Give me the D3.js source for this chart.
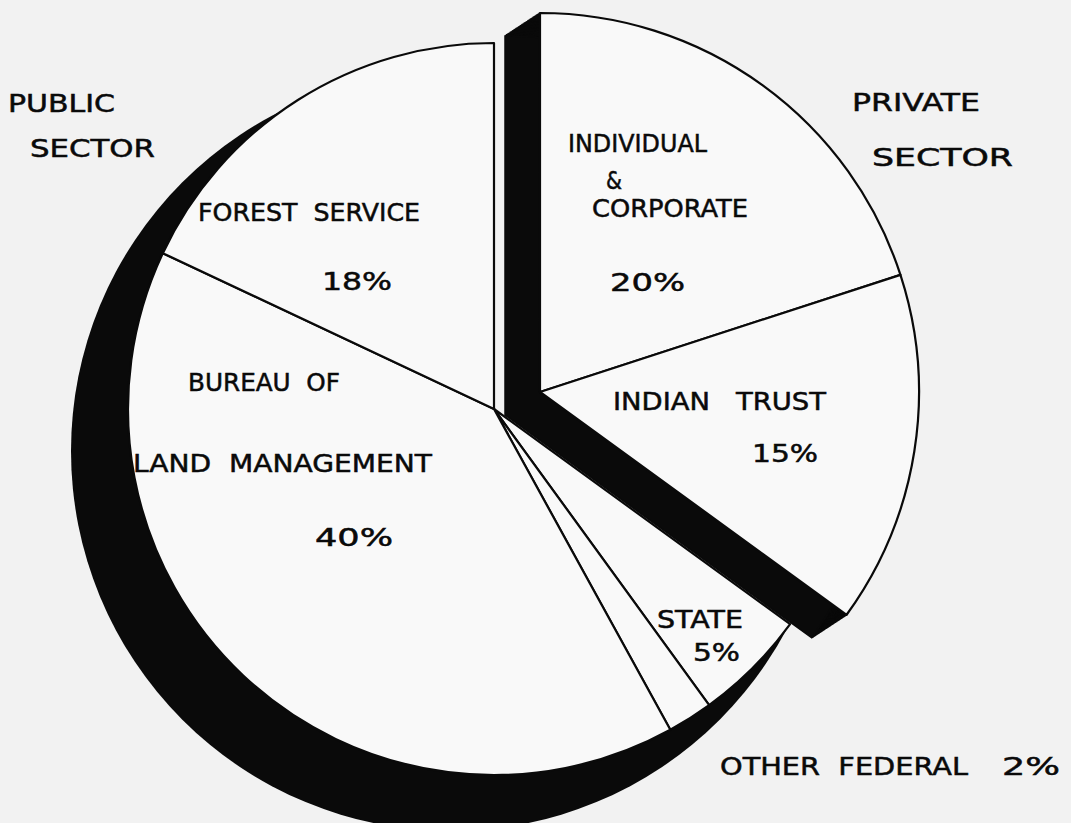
<!DOCTYPE html>
<html><head><meta charset="utf-8">
<script src="https://cdn.jsdelivr.net/npm/d3@7"></script>
<style>html,body{margin:0;padding:0;background:#f2f2f2;} svg{display:block;}</style>
</head><body><svg id="chart" width="1071" height="823"></svg>
<script>
// ---- data ----
const categories = ["Individual & Corporate", "Indian Trust", "State", "Other Federal", "Bureau of Land Management", "Forest Service"];
const shares = [20, 15, 5, 2, 40, 18];
const sectorOf = ["PRIVATE", "PRIVATE", "PUBLIC", "PUBLIC", "PUBLIC", "PUBLIC"];
const labelLines = [
  ["INDIVIDUAL", "&", "CORPORATE", "20%"],
  ["INDIAN   TRUST", "15%"],
  ["STATE", "5%"],
  ["OTHER  FEDERAL", "2%"],
  ["BUREAU  OF", "LAND  MANAGEMENT", "40%"],
  ["FOREST  SERVICE", "18%"]
];
const sectorTitles = { PUBLIC: ["PUBLIC", "SECTOR"], PRIVATE: ["PRIVATE", "SECTOR"] };

// ---- layout (positions / sizes only) ----
const pub = { cx: 494, cy: 409, r: 366, shadowDx: -43, shadowDy: 42, shadowR: 380 };
const prv = { cx: 540, cy: 392, r: 379, shadowDx: -35, shadowDy: 23 };
const labelPos = [
  [[568, 152, 139], [606, 189, 16], [592, 217, 156], [610, 291, 75]],
  [[613, 410, 213], [752, 462, 66]],
  [[657, 628, 86], [693, 661, 47]],
  [[720, 775, 248], [1002, 775, 58]],
  [[188, 391, 152], [133, 472, 299], [315, 546, 78]],
  [[198, 221, 222], [322, 290, 70]]
];
const titlePos = { PUBLIC: [[8, 112, 107], [30, 157, 125]], PRIVATE: [[852, 111, 128], [872, 166, 141]] };

const svg = d3.select("#chart");
const fontFamily = "'DejaVu Sans', 'Liberation Sans', sans-serif";
const ink = "#0a0a0a", paper = "#f9f9f9";

const pie = d3.pie().sort(null).value(d => d.value);
const arcs = pie(categories.map((c, i) => ({ name: c, value: shares[i], sector: sectorOf[i], idx: i })));

function span(sector) {
  const a = arcs.filter(d => d.data.sector === sector);
  return { startAngle: d3.min(a, d => d.startAngle), endAngle: d3.max(a, d => d.endAngle) };
}

// public shadow: offset disc clipped to the public wedge
const pubSpan = span("PUBLIC");
svg.append("defs").append("clipPath").attr("id", "pubWedge")
  .append("path")
  .attr("transform", `translate(${pub.cx},${pub.cy})`)
  .attr("d", d3.arc().innerRadius(0).outerRadius(2000)(pubSpan));
svg.append("g").attr("clip-path", "url(#pubWedge)")
  .append("path")
  .attr("transform", `translate(${pub.cx + pub.shadowDx},${pub.cy + pub.shadowDy})`)
  .attr("d", d3.arc().innerRadius(0).outerRadius(pub.shadowR)({ startAngle: 0, endAngle: 2 * Math.PI }))
  .attr("fill", ink);

// public slices
const pubArc = d3.arc().innerRadius(0).outerRadius(pub.r);
svg.append("g").attr("transform", `translate(${pub.cx},${pub.cy})`)
  .selectAll("path").data(arcs.filter(d => d.data.sector === "PUBLIC")).join("path")
  .attr("d", pubArc).attr("fill", paper).attr("stroke", ink).attr("stroke-width", 2.2)
  .attr("stroke-linejoin", "round");

// private shadow: extruded copies of the private sector
const prvSpan = span("PRIVATE");
const prvArc = d3.arc().innerRadius(0).outerRadius(prv.r);
const steps = d3.range(1, 41).map(k => k / 40);
svg.append("g").selectAll("path").data(steps).join("path")
  .attr("transform", t => `translate(${prv.cx + prv.shadowDx * t},${prv.cy + prv.shadowDy * t})`)
  .attr("d", prvArc(prvSpan)).attr("fill", ink).attr("stroke", ink).attr("stroke-width", 1.5);

svg.append("g").attr("transform", `translate(${prv.cx},${prv.cy})`)
  .selectAll("path").data(arcs.filter(d => d.data.sector === "PRIVATE")).join("path")
  .attr("d", prvArc).attr("fill", paper).attr("stroke", ink).attr("stroke-width", 2.2)
  .attr("stroke-linejoin", "round");

// labels
function addText(x, y, w, t) {
  svg.append("text").attr("x", x).attr("y", y)
    .attr("font-family", fontFamily).attr("font-size", 24).attr("fill", ink)
    .attr("stroke", ink).attr("stroke-width", 0.5)
    .attr("textLength", w).attr("lengthAdjust", "spacingAndGlyphs")
    .style("white-space", "pre").text(t);
}
labelLines.forEach((lines, i) => lines.forEach((t, j) => {
  const [x, y, w] = labelPos[i][j];
  addText(x, y, w, t);
}));
Object.keys(sectorTitles).forEach(k => sectorTitles[k].forEach((t, j) => {
  const [x, y, w] = titlePos[k][j];
  addText(x, y, w, t);
}));
</script></body></html>
